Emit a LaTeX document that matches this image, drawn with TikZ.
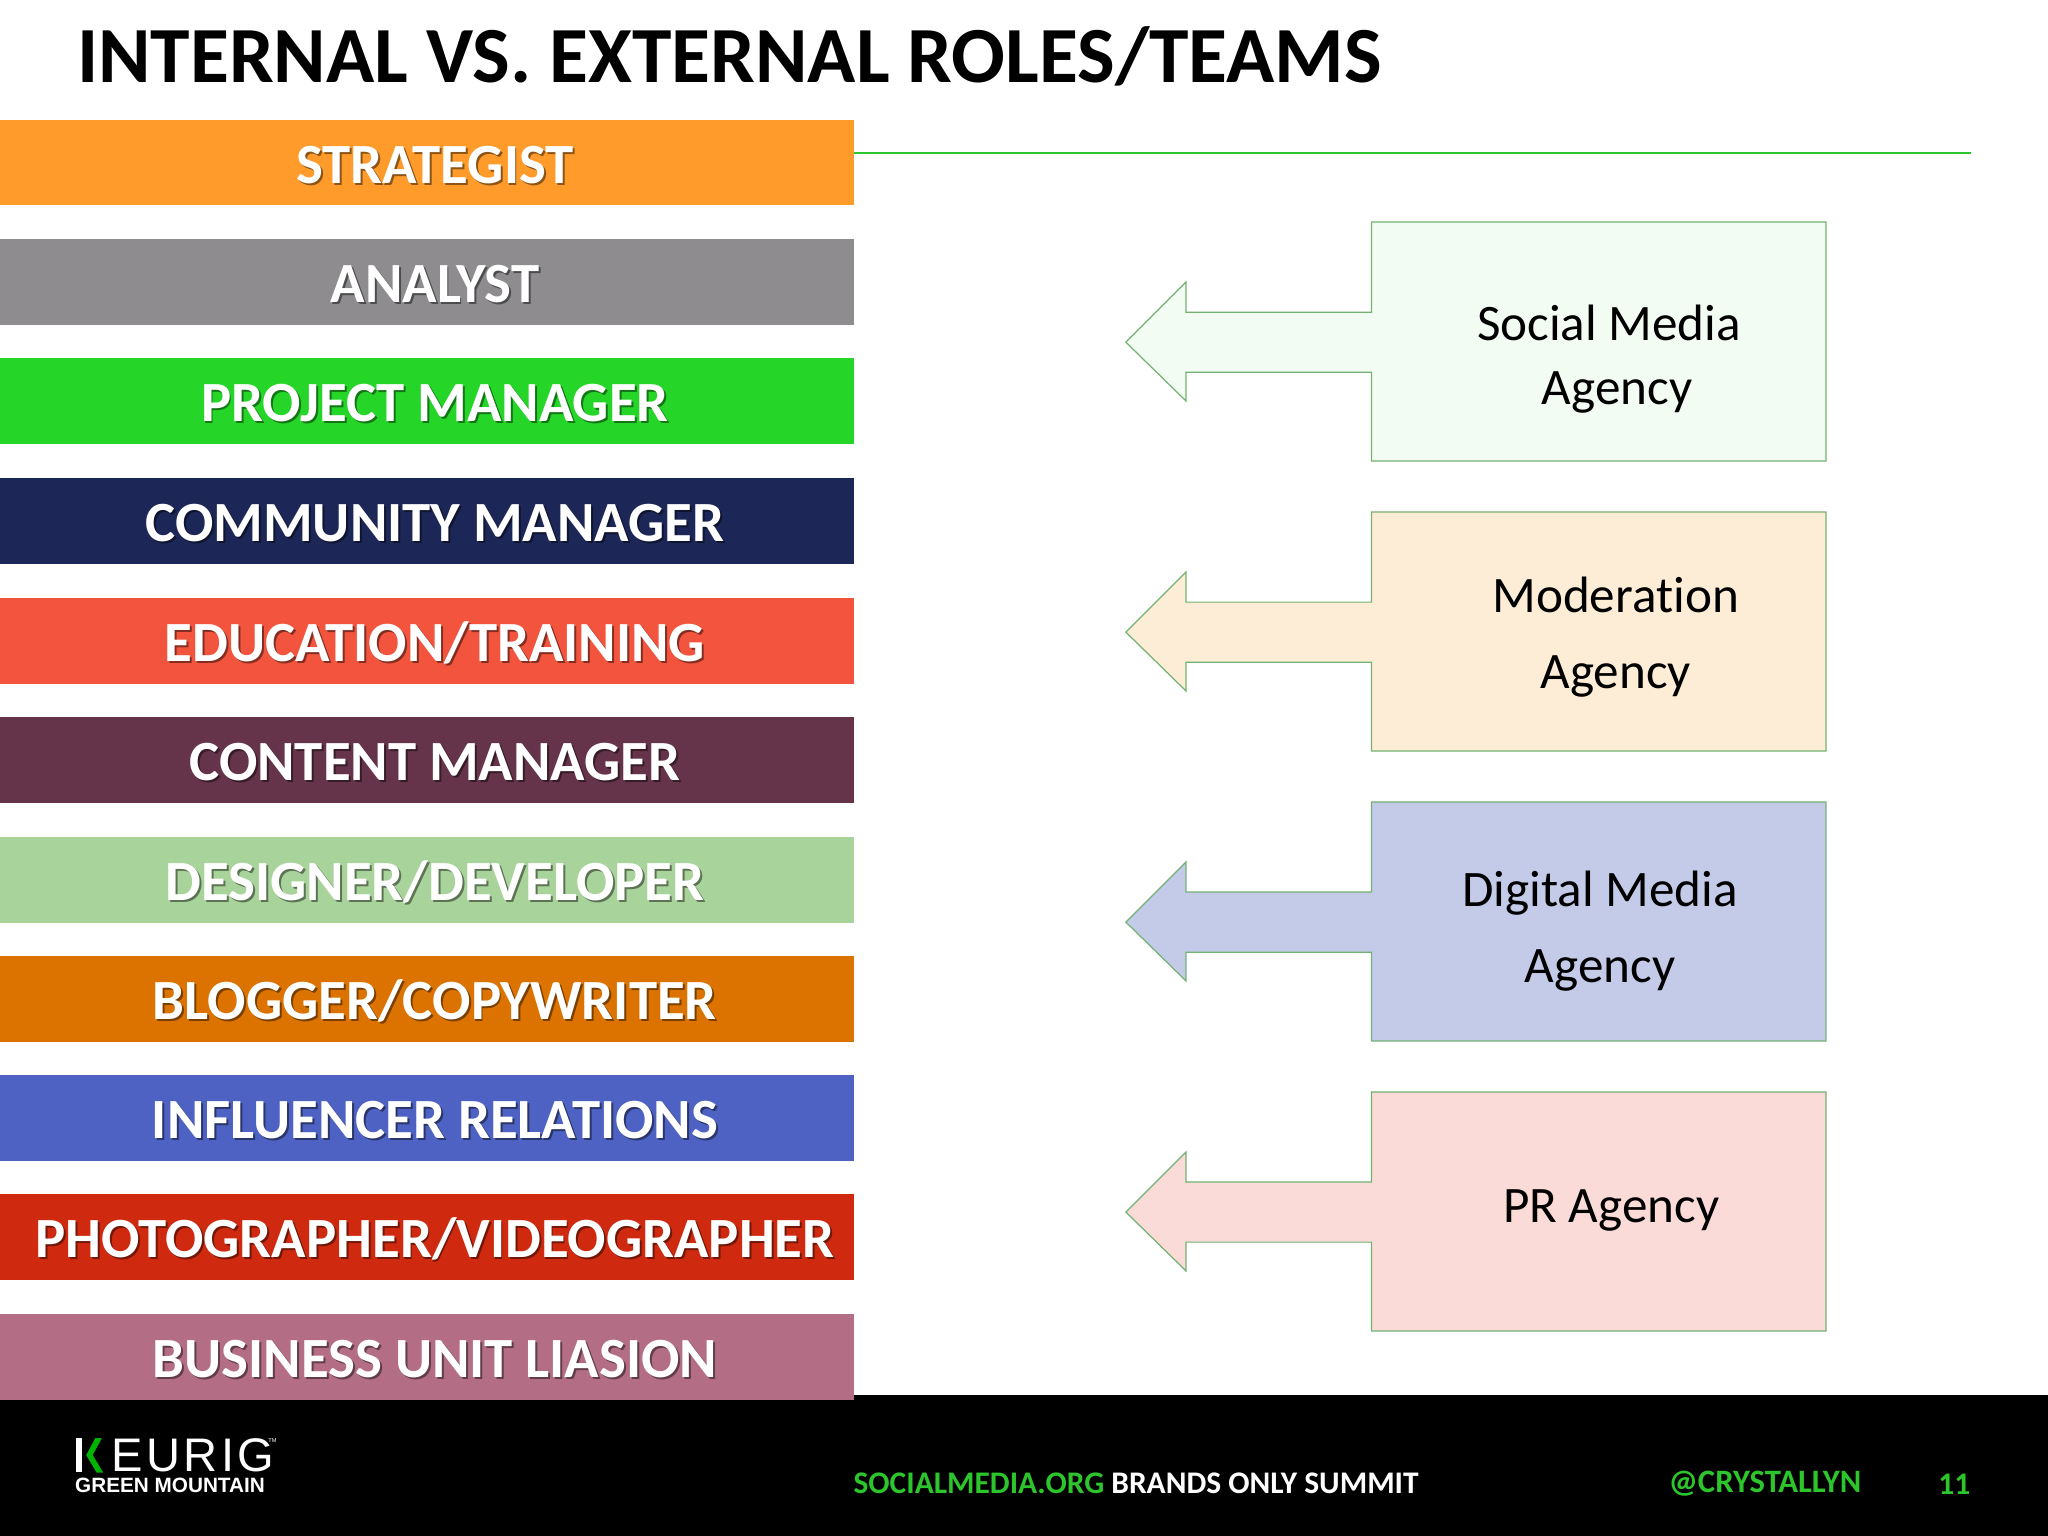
\documentclass[tikz,border=0pt]{standalone}
\usepackage{fontspec}
\setmainfont{Carlito}[Ligatures=NoCommon]
\newfontfamily\logofont{Liberation Sans}
\begin{document}
\begin{tikzpicture} [x=0.0130612cm,y=-0.0130612cm,
% Styles
role text/.style={font=\fontsize{16.17}{18}\selectfont\bfseries,text=white,inner sep=0pt},
role shadow/.style={font=\fontsize{16.17}{18}\selectfont\bfseries,text=black,opacity=.45,inner sep=0pt},
agency text/.style={font=\fontsize{14.55}{16}\selectfont,text=black,align=center,inner sep=0pt},
footer text/.style={font=\fontsize{8.95}{10}\selectfont\bfseries,inner sep=0pt}]
% Colors
\colorlet{edgecolor}{green!45!black!55}
\definecolor{footgreen}{HTML}{2CC52C}
\definecolor{c1}{HTML}{FF9B2A}
\definecolor{c2}{HTML}{8E8C8F}
\definecolor{c3}{HTML}{25D629}
\definecolor{c4}{HTML}{1C2657}
\definecolor{c5}{HTML}{F2543D}
\definecolor{c6}{HTML}{65334A}
\definecolor{c7}{HTML}{A8D39A}
\definecolor{c8}{HTML}{DC7300}
\definecolor{c9}{HTML}{4D62C2}
\definecolor{c10}{HTML}{CF2A10}
\definecolor{c11}{HTML}{B36E85}
\definecolor{a1}{HTML}{F3FCF3}
\definecolor{a2}{HTML}{FDECD6}
\definecolor{a3}{HTML}{C3CBE8}
\definecolor{a4}{HTML}{FBDBD8}
\useasboundingbox (0,0) rectangle (1568,1176);
\fill[white] (0,0) rectangle (1568,1176);
\fill[black] (0,1068) rectangle (1568,1176);
\node[inner sep=0pt,font=\fontsize{22.65}{24}\selectfont\bfseries] (title) at (558.5,43) {INTERNAL VS. EXTERNAL ROLES/TEAMS};
\draw[footgreen,line width=.6pt] (654,117) -- (1509,117);
% Role bars
\foreach \i/\y/\h/\rolename in {1/92/65/STRATEGIST, 2/183/66/ANALYST, 3/274/66/PROJECT MANAGER,
    4/366/66/COMMUNITY MANAGER, 5/458/66/EDUCATION\slash TRAINING, 6/549/66/CONTENT MANAGER,
    7/641/66/DESIGNER\slash DEVELOPER, 8/732/66/BLOGGER\slash COPYWRITER, 9/823/66/INFLUENCER RELATIONS,
    10/914/66/PHOTOGRAPHER\slash VIDEOGRAPHER, 11/1006/66/BUSINESS UNIT LIASION} {
    \fill[c\i] (0,\y) rectangle (654,\y+\h);
    \node[role shadow] (shadow\i) at (334.5,\y+36) {\rolename};
    \node[role text] (role\i) at (333,\y+34.5) {\rolename};
}
% Agency boxes with their arrows
\foreach \i/\y in {1/170, 2/392, 3/614, 4/836}
    \filldraw[fill=a\i,draw=edgecolor,line width=.35pt] (1050,\y) -- (1398,\y) -- (1398,\y+183) -- (1050,\y+183)
        -- (1050,\y+115) -- (908,\y+115) -- (908,\y+137) -- (862,\y+92) -- (908,\y+46)
        -- (908,\y+69) -- (1050,\y+69) -- cycle;
\node[agency text] (social) at (1232,275) {Social Media\\[2pt]\hspace*{4.5pt}Agency};
\node[agency text] (moderation) at (1237,488) {Moderation\\[5.5pt]Agency};
\node[agency text] (digital) at (1225,713) {Digital Media\\[5.5pt]Agency};
\node[agency text] (pr) at (1233.5,927) {PR Agency};
% Footer
\node[footer text,anchor=west] (summit) at (653,1135.5) {\textcolor{footgreen}{SOCIALMEDIA.ORG} \textcolor{white}{BRANDS ONLY SUMMIT}};
\node[footer text,anchor=west,text=footgreen,font=\fontsize{9.3}{10}\selectfont\bfseries] (handle) at (1277,1136) {@CRYSTALLYN};
\node[footer text,anchor=east,text=footgreen] (page) at (1509,1136.5) {11};
% Logo
\fill[white] (58,1101) rectangle (62.5,1127);
\fill[green!70!black] (73,1101) -- (78,1101) -- (71,1114) -- (79,1127.5) -- (74,1127.5) -- (66,1114) -- cycle;
\node[anchor=west,inner sep=0pt,text=white,font=\logofont\fontsize{13.4}{14}\selectfont] (keurig) at (85,1114) {\addfontfeature{LetterSpace=7}EURIG};
\node[anchor=west,inner sep=0pt,text=white,font=\logofont\fontsize{1.6}{2}\selectfont] (tm) at (205,1103) {TM};
\node[anchor=west,inner sep=0pt,text=white,font=\logofont\fontsize{5.9}{7}\selectfont\bfseries] (mountain) at (57,1137) {GREEN MOUNTAIN};
\end{tikzpicture}
\end{document}
